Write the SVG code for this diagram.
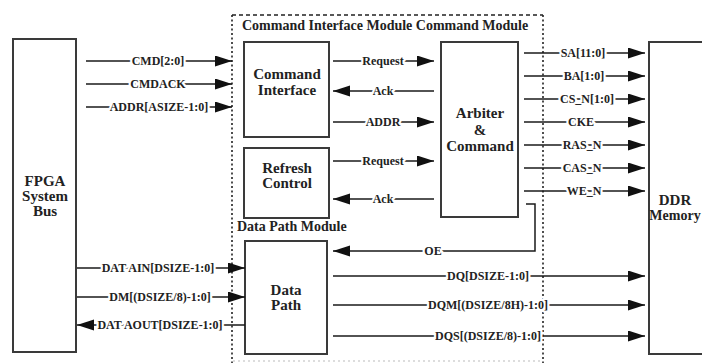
<svg xmlns="http://www.w3.org/2000/svg" width="702" height="363" viewBox="0 0 702 363">
  <style>
    .box { fill: #fff; stroke: #3a3a3a; stroke-width: 2; }
    .name { font-family: "Liberation Serif", "Times New Roman", serif; font-weight: bold; font-size: 15px; fill: #222; text-anchor: middle; }
    .title { font-family: "Liberation Serif", "Times New Roman", serif; font-weight: bold; font-size: 14px; fill: #222; }
    .sig { font-family: "Liberation Serif", "Times New Roman", serif; font-weight: bold; font-size: 12px; fill: #222; text-anchor: middle; stroke: #fff; stroke-width: 4.5; paint-order: stroke; stroke-linejoin: round; }
    .wire { fill: none; stroke: #1a1a1a; stroke-width: 1.5; }
    .arr { marker-end: url(#head); }
  </style>
  <defs>
    <marker id="head" markerUnits="userSpaceOnUse" markerWidth="18" markerHeight="12" refX="17" refY="5.5" orient="auto">
      <path d="M0,0 L17,5.5 L0,11 z" fill="#111"/>
    </marker>
  </defs>

  <rect width="702" height="363" fill="#fff"/>

  <!-- module outline -->
  <g id="module-frame">
    <path d="M232,15 H543" stroke="#222" stroke-width="1.4" stroke-dasharray="4 3" fill="none"/>
    <path d="M232,15 V363 M543,15 V363" stroke="#222" stroke-width="1.6" stroke-dasharray="2 2.5" fill="none"/>
    <path d="M233,361 H543" stroke="#bbb" stroke-width="1" stroke-dasharray="2 3" fill="none"/>
    <text class="title" x="242" y="30">Command Interface Module Command Module</text>
    <text class="title" x="237" y="231">Data Path Module</text>
  </g>

  <g id="fpga-bus">
    <rect class="box" x="13" y="39" width="63" height="313"/>
    <text class="name" x="45" y="186">FPGA</text>
    <text class="name" x="45" y="201">System</text>
    <text class="name" x="45" y="216">Bus</text>
  </g>

  <g id="command-interface">
    <rect class="box" x="244" y="42" width="85" height="95"/>
    <text class="name" x="287" y="79">Command</text>
    <text class="name" x="287" y="95">Interface</text>
  </g>

  <g id="refresh-control">
    <rect class="box" x="244" y="148" width="85" height="70"/>
    <text class="name" x="287" y="173">Refresh</text>
    <text class="name" x="287" y="188">Control</text>
  </g>

  <g id="arbiter">
    <rect class="box" x="441" y="42" width="77" height="175"/>
    <text class="name" x="480" y="118">Arbiter</text>
    <text class="name" x="480" y="135">&amp;</text>
    <text class="name" x="480" y="151">Command</text>
  </g>

  <g id="data-path">
    <rect class="box" x="245" y="241" width="82" height="113"/>
    <text class="name" x="286" y="295">Data</text>
    <text class="name" x="286" y="310">Path</text>
  </g>

  <g id="ddr-memory">
    <rect class="box" x="649" y="42" width="60" height="312"/>
    <text class="name" x="675" y="205">DDR</text>
    <text class="name" x="675" y="220" style="font-size:14px">Memory</text>
  </g>

  <g id="connectors">
    <!-- system bus to command interface -->
    <path class="wire arr" d="M86,61 H232"/>
    <path class="wire arr" d="M86,84 H232"/>
    <path class="wire arr" d="M86,107 H232"/>
    <!-- system bus to data path -->
    <path class="wire arr" d="M77,268 H245"/>
    <path class="wire arr" d="M77,297 H245"/>
    <path class="wire arr" d="M245,325 H77"/>
    <!-- command / refresh to arbiter -->
    <path class="wire arr" d="M333,61 H434"/>
    <path class="wire arr" d="M434,91 H333"/>
    <path class="wire arr" d="M333,122 H434"/>
    <path class="wire arr" d="M333,161 H434"/>
    <path class="wire arr" d="M434,199 H333"/>
    <!-- arbiter to data path enable -->
    <path class="wire arr" d="M526,204 H535 V251 H333"/>
    <!-- arbiter to memory -->
    <path class="wire arr" d="M524,53 H645"/>
    <path class="wire arr" d="M524,76 H645"/>
    <path class="wire arr" d="M524,99 H645"/>
    <path class="wire arr" d="M524,122 H645"/>
    <path class="wire arr" d="M524,145 H645"/>
    <path class="wire arr" d="M524,168 H645"/>
    <path class="wire arr" d="M524,191 H645"/>
    <!-- data path to memory -->
    <path class="wire arr" d="M333,276 H645"/>
    <path class="wire arr" d="M333,305 H645"/>
    <path class="wire arr" d="M333,336 H645"/>

    <text class="sig" x="158" y="65">CMD[2:0]</text>
    <text class="sig" x="158" y="88">CMDACK</text>
    <text class="sig" x="159" y="111">ADDR[ASIZE-1:0]</text>
    <text class="sig" x="158" y="272">DAT AIN[DSIZE-1:0]</text>
    <text class="sig" x="160" y="301">DM[(DSIZE/8)-1:0]</text>
    <text class="sig" x="160" y="329">DAT AOUT[DSIZE-1:0]</text>

    <text class="sig" x="383" y="65">Request</text>
    <text class="sig" x="383" y="95">Ack</text>
    <text class="sig" x="383" y="126">ADDR</text>
    <text class="sig" x="383" y="165">Request</text>
    <text class="sig" x="383" y="203">Ack</text>
    <text class="sig" x="433" y="255">OE</text>

    <text class="sig" x="583" y="57">SA[11:0]</text>
    <text class="sig" x="584" y="80">BA[1:0]</text>
    <text class="sig" x="587" y="103">CS_N[1:0]</text>
    <text class="sig" x="581" y="126">CKE</text>
    <text class="sig" x="582" y="149">RAS_N</text>
    <text class="sig" x="582" y="172">CAS_N</text>
    <text class="sig" x="584" y="195">WE_N</text>

    <text class="sig" x="488" y="280">DQ[DSIZE-1:0]</text>
    <text class="sig" x="488" y="309">DQM[(DSIZE/8H)-1:0]</text>
    <text class="sig" x="488" y="340">DQS[(DSIZE/8)-1:0]</text>
  </g>
</svg>
